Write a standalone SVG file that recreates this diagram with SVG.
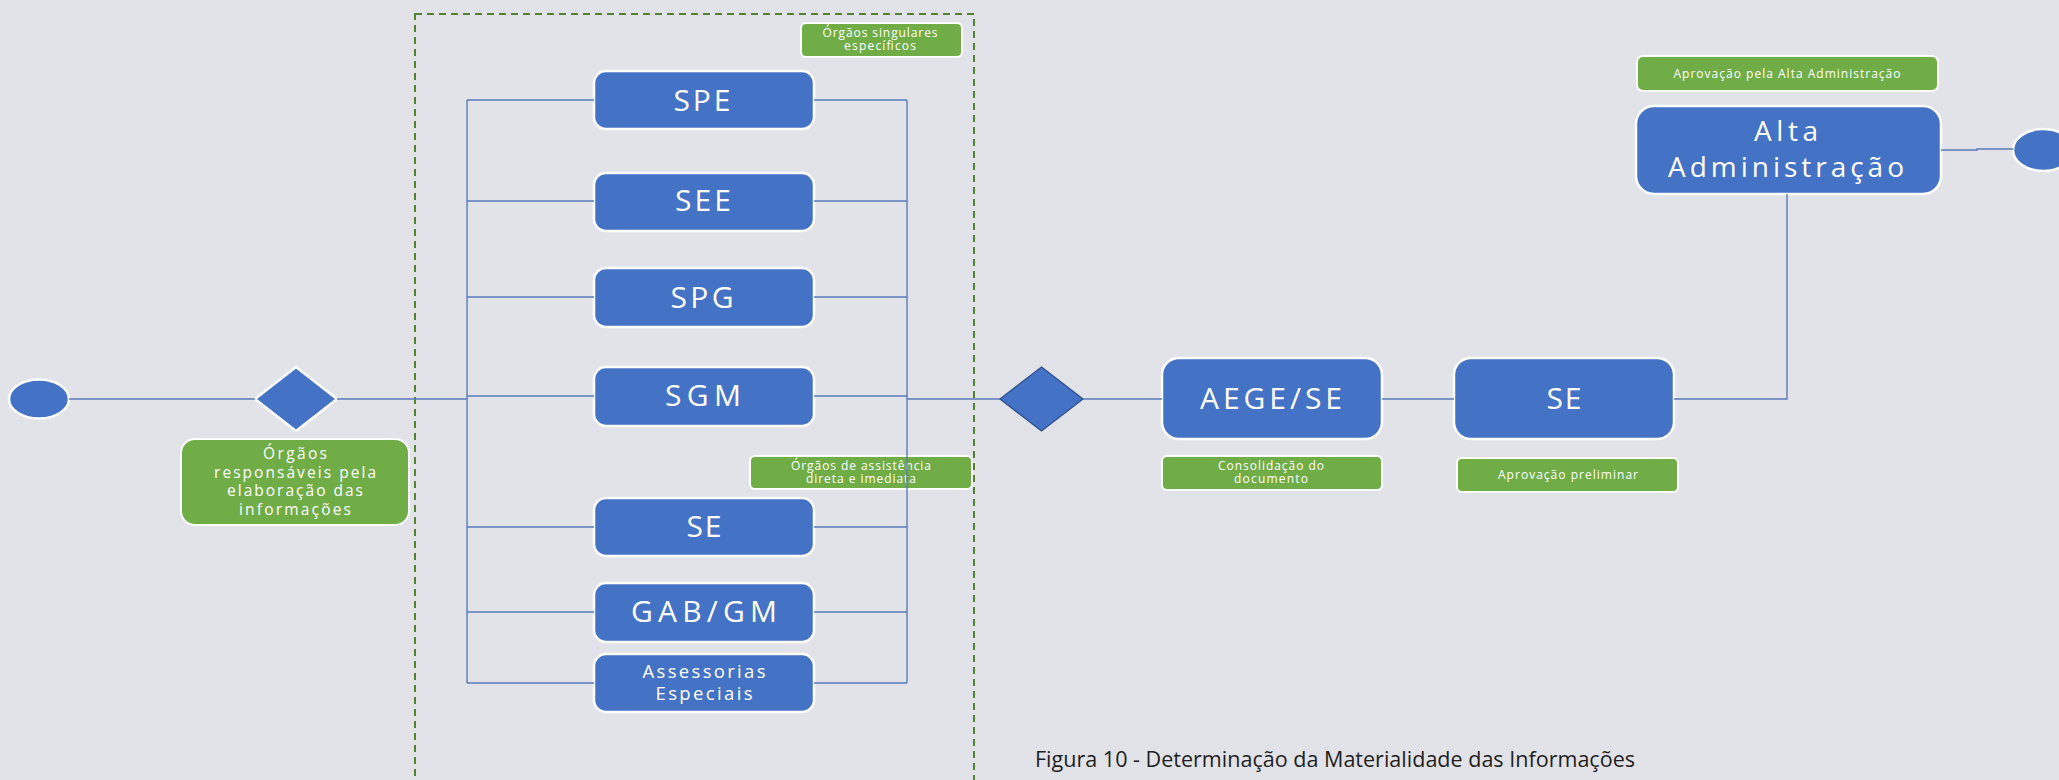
<svg xmlns="http://www.w3.org/2000/svg" width="2059" height="780" viewBox="0 0 2059 780">
<defs>
<style>
.bg{fill:#e2e3e8}
.blue{fill:#4472c4;stroke:#ffffff;stroke-width:2.5}
.green{fill:#70ad47;stroke:#ffffff;stroke-width:2}
.t{font-family:"Open Sans","Liberation Sans",sans-serif;fill:#ffffff;text-anchor:middle}
.big{font-size:30px}
.mid{font-size:18.5px}
.sm{font-size:12px}
.gl{font-size:15.5px}
.ln{fill:none;stroke:#5b7bb8;stroke-width:1.4}
.dash{fill:none;stroke:#548235;stroke-width:2;stroke-dasharray:7 5}
.cap{font-family:"Open Sans","Liberation Sans",sans-serif;font-size:22px;fill:#1f1f1f}
</style>
</defs>
<rect class="bg" x="0" y="0" width="2059" height="780"/>

<rect id="container" class="dash" x="415" y="14" width="559" height="800"/>

<g id="start"><ellipse class="blue" cx="39" cy="399" rx="30" ry="19.5"/></g>
<g id="gateway1"><polygon class="blue" points="296,367 337,399 296,431 255,399"/></g>
<g id="label-orgaos">
<rect class="green" x="181" y="439" width="228" height="86" rx="14"/>
<text class="t gl" x="295" y="459" textLength="64" lengthAdjust="spacing">Órgãos</text>
<text class="t gl" x="295" y="477.5" textLength="162" lengthAdjust="spacing">responsáveis pela</text>
<text class="t gl" x="295" y="496" textLength="136" lengthAdjust="spacing">elaboração das</text>
<text class="t gl" x="295" y="514.5" textLength="112" lengthAdjust="spacing">informações</text>
</g>

<g id="label-singulares">
<rect class="green" x="801" y="23" width="161" height="34" rx="5"/>
<text class="t sm" x="880" y="37" textLength="115" lengthAdjust="spacing">Órgãos singulares</text>
<text class="t sm" x="880" y="50" textLength="72" lengthAdjust="spacing">específicos</text>
</g>

<g id="spe"><rect class="blue" x="594" y="71" width="220" height="58" rx="12"/>
<text class="t big" x="702" y="111" textLength="57" lengthAdjust="spacing">SPE</text></g>
<g id="see"><rect class="blue" x="594" y="173" width="220" height="58" rx="12"/>
<text class="t big" x="703" y="211" textLength="56" lengthAdjust="spacing">SEE</text></g>
<g id="spg"><rect class="blue" x="594" y="268" width="220" height="59" rx="12"/>
<text class="t big" x="702" y="308" textLength="63" lengthAdjust="spacing">SPG</text></g>
<g id="sgm"><rect class="blue" x="594" y="367" width="220" height="59" rx="12"/>
<text class="t big" x="703" y="406" textLength="76" lengthAdjust="spacing">SGM</text></g>

<g id="label-assistencia">
<rect class="green" x="750" y="456" width="222" height="33" rx="5"/>
<text class="t sm" x="861" y="470" textLength="140" lengthAdjust="spacing">Órgãos de assistência</text>
<text class="t sm" x="861" y="483" textLength="110" lengthAdjust="spacing">direta e imediata</text>
</g>

<g id="se1"><rect class="blue" x="594" y="498" width="220" height="58" rx="12"/>
<text class="t big" x="704" y="537" textLength="35" lengthAdjust="spacing">SE</text></g>
<g id="gabgm"><rect class="blue" x="594" y="583" width="220" height="59" rx="12"/>
<text class="t big" x="704" y="622" textLength="146" lengthAdjust="spacing">GAB/GM</text></g>
<g id="assessorias"><rect class="blue" x="594" y="654" width="220" height="58" rx="12"/>
<text class="t mid" x="704" y="677.5" textLength="123" lengthAdjust="spacing">Assessorias</text>
<text class="t mid" x="704" y="700" textLength="97" lengthAdjust="spacing">Especiais</text></g>

<g id="gateway2"><polygon points="1041.5,367 1083,399 1041.5,431 1000,399" fill="#4472c4" stroke="#2f528f" stroke-width="1.3"/></g>

<g id="aege"><rect class="blue" x="1162" y="358" width="220" height="81" rx="17"/>
<text class="t big" x="1271" y="409" textLength="142" lengthAdjust="spacing">AEGE/SE</text></g>
<g id="label-consolidacao">
<rect class="green" x="1162" y="456" width="220" height="34" rx="5"/>
<text class="t sm" x="1271" y="470" textLength="106" lengthAdjust="spacing">Consolidação do</text>
<text class="t sm" x="1271" y="483" textLength="74" lengthAdjust="spacing">documento</text>
</g>

<g id="se2"><rect class="blue" x="1454" y="358" width="220" height="81" rx="17"/>
<text class="t big" x="1564" y="409" textLength="35" lengthAdjust="spacing">SE</text></g>
<g id="label-preliminar">
<rect class="green" x="1457" y="458" width="221" height="34" rx="5"/>
<text class="t sm" x="1568" y="479" textLength="140" lengthAdjust="spacing">Aprovação preliminar</text>
</g>

<g id="label-alta">
<rect class="green" x="1637" y="56" width="301" height="35" rx="6"/>
<text class="t sm" x="1787" y="78" textLength="227" lengthAdjust="spacing">Aprovação pela Alta Administração</text>
</g>
<g id="alta"><rect class="blue" x="1636" y="106" width="305" height="88" rx="18"/>
<text class="t" font-size="28" x="1786" y="141" textLength="64" lengthAdjust="spacing">Alta</text>
<text class="t" font-size="28" x="1786" y="177" textLength="236" lengthAdjust="spacing">Administração</text></g>

<g id="end"><ellipse class="blue" cx="2043" cy="150" rx="30" ry="21"/></g>

<g id="connectors">
<path class="ln" d="M69,399 H255"/>
<path class="ln" d="M337,399 H467"/>
<path class="ln" d="M467,100 V683"/>
<path class="ln" d="M467,100 H594 M467,201 H594 M467,297 H594 M467,396 H594 M467,527 H594 M467,612 H594 M467,683 H594"/>
<path class="ln" d="M814,100 H907 M814,201 H907 M814,297 H907 M814,396 H907 M814,527 H907 M814,612 H907 M814,683 H907"/>
<path class="ln" d="M907,100 V683"/>
<path class="ln" d="M907,399 H1000"/>
<path class="ln" d="M1083,399 H1162"/>
<path class="ln" d="M1382,399 H1454"/>
<path class="ln" d="M1674,399 H1787 V194"/>
<path class="ln" d="M1941,150 H1977 V149 H2013"/>
</g>

<text class="cap" x="1035" y="767" textLength="600" lengthAdjust="spacingAndGlyphs">Figura 10 - Determinação da Materialidade das Informações</text>
</svg>
